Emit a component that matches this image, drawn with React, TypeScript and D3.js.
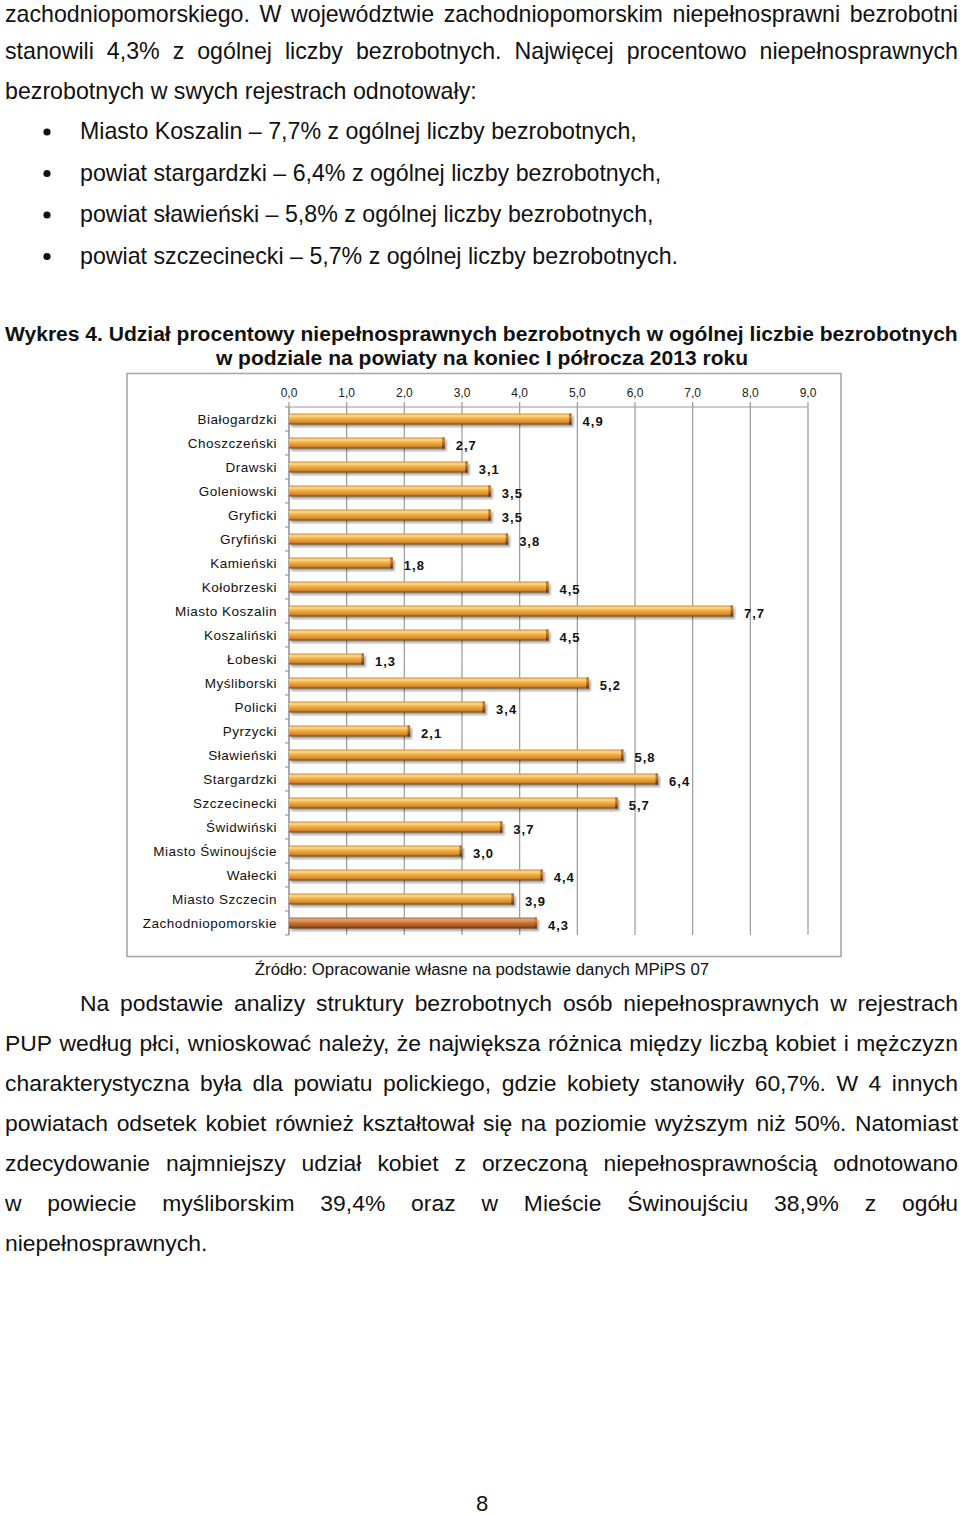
import React from "react";
import * as d3 from "d3";

const categories = [
  "Białogardzki", "Choszczeński", "Drawski", "Goleniowski", "Gryficki", "Gryfiński",
  "Kamieński", "Kołobrzeski", "Miasto Koszalin", "Koszaliński", "Łobeski", "Myśliborski",
  "Policki", "Pyrzycki", "Sławieński", "Stargardzki", "Szczecinecki", "Świdwiński",
  "Miasto Świnoujście", "Wałecki", "Miasto Szczecin", "Zachodniopomorskie",
];
const values = [4.9, 2.7, 3.1, 3.5, 3.5, 3.8, 1.8, 4.5, 7.7, 4.5, 1.3, 5.2, 3.4, 2.1, 5.8, 6.4, 5.7, 3.7, 3.0, 4.4, 3.9, 4.3];
const tickValues = [0, 1, 2, 3, 4, 5, 6, 7, 8, 9];

const topLines = [
  { text: "zachodniopomorskiego. W województwie zachodniopomorskim niepełnosprawni bezrobotni", justify: true },
  { text: "stanowili 4,3% z ogólnej liczby bezrobotnych. Najwięcej procentowo niepełnosprawnych", justify: true },
  { text: "bezrobotnych w swych rejestrach odnotowały:", justify: false },
];
const bulletLines = [
  "Miasto Koszalin – 7,7% z ogólnej liczby bezrobotnych,",
  "powiat stargardzki – 6,4% z ogólnej liczby bezrobotnych,",
  "powiat sławieński – 5,8% z ogólnej liczby bezrobotnych,",
  "powiat szczecinecki – 5,7% z ogólnej liczby bezrobotnych.",
];
const titleLines = [
  "Wykres 4. Udział procentowy niepełnosprawnych bezrobotnych w ogólnej liczbie bezrobotnych",
  "w podziale na powiaty na koniec I półrocza 2013 roku",
];
const sourceText = "Źródło: Opracowanie własne na podstawie danych MPiPS 07";
const bottomLines = [
  { text: "Na podstawie analizy struktury bezrobotnych osób niepełnosprawnych w rejestrach", justify: true, indent: true },
  { text: "PUP według płci, wnioskować należy, że największa różnica między liczbą kobiet i mężczyzn", justify: true },
  { text: "charakterystyczna była dla powiatu polickiego, gdzie kobiety stanowiły 60,7%. W 4 innych", justify: true },
  { text: "powiatach odsetek kobiet również kształtował się na poziomie wyższym niż 50%. Natomiast", justify: true },
  { text: "zdecydowanie najmniejszy udział kobiet z orzeczoną niepełnosprawnością odnotowano", justify: true },
  { text: "w powiecie myśliborskim 39,4% oraz w Mieście Świnoujściu 38,9% z ogółu", justify: true },
  { text: "niepełnosprawnych.", justify: false },
];
const pageNumber = "8";

const FONT = "'Liberation Sans', Arial, sans-serif";
let ctx: CanvasRenderingContext2D | null = null;
function measure(text: string, font: string): number {
  if (!ctx) ctx = document.createElement("canvas").getContext("2d");
  ctx!.font = font;
  return ctx!.measureText(text).width;
}

function Line({ text, x0, x1, y, size, bold = false, justify }: any) {
  const weight = bold ? "bold " : "";
  const font = `${weight}${size}px ${FONT}`;
  const words = text.split(" ");
  const widths = words.map((w: string) => measure(w, font));
  const total = d3.sum(widths);
  const space = measure(" ", font);
  const gap = justify && words.length > 1 ? (x1 - x0 - total) / (words.length - 1) : space;
  let x = x0;
  const xs = widths.map((w: number) => {
    const cur = x;
    x += w + gap;
    return cur;
  });
  return (
    <text y={y} fontFamily={FONT} fontSize={size} fontWeight={bold ? "bold" : "normal"} fill="#111">
      {words.map((w: string, i: number) => (
        <tspan key={i} x={xs[i]}>{w}</tspan>
      ))}
    </text>
  );
}

export default function App() {
  const W = 960, H = 1515;
  const topSize = 23.2;
  const bottomSize = 22.9;
  const x = d3.scaleLinear().domain([0, 9]).range([289, 808]);
  const y = d3.scaleBand<string>().domain(categories).range([407, 935]);
  const barH = 11;
  const fmt = (v: number) => d3.format(".1f")(v).replace(".", ",");

  const titleSize = 20 * 953 / measure(titleLines[0], `bold 20px ${FONT}`);

  return (
    <svg width={W} height={H} style={{ position: "absolute", left: 0, top: 0, display: "block", background: "#fff" }}>
      <defs>
        <linearGradient id="barGrad" x1="0" y1="0" x2="0" y2="1">
          <stop offset="0" stopColor="#d48d2e" />
          <stop offset="0.2" stopColor="#fbd98c" />
          <stop offset="0.5" stopColor="#f0a83e" />
          <stop offset="0.8" stopColor="#d98a26" />
          <stop offset="1" stopColor="#7a430e" />
        </linearGradient>
        <linearGradient id="barGradDark" x1="0" y1="0" x2="0" y2="1">
          <stop offset="0" stopColor="#b86a35" />
          <stop offset="0.2" stopColor="#e3a47a" />
          <stop offset="0.5" stopColor="#c47236" />
          <stop offset="0.8" stopColor="#a4561a" />
          <stop offset="1" stopColor="#5e2c0a" />
        </linearGradient>
        <linearGradient id="capGrad" x1="0" y1="0" x2="0" y2="1">
          <stop offset="0" stopColor="#a8641f" />
          <stop offset="0.3" stopColor="#c97f30" />
          <stop offset="1" stopColor="#5e300a" />
        </linearGradient>
        <filter id="shadow" x="-5%" y="-50%" width="110%" height="200%">
          <feGaussianBlur stdDeviation="1.2" />
        </filter>
      </defs>

      {/* top text */}
      {topLines.map((l, i) => (
        <Line key={i} text={l.text} x0={5} x1={958} y={i === 0 ? 21.5 : 19 + i * 40} size={topSize} justify={l.justify} />
      ))}
      {bulletLines.map((t, i) => (
        <g key={i}>
          <circle cx={47} cy={139 + i * 41.5 - 7} r={3.6} fill="#111" />
          <Line text={t} x0={80} x1={958} y={139 + i * 41.5} size={topSize} justify={false} />
        </g>
      ))}

      {/* title */}
      <Line text={titleLines[0]} x0={5} x1={958} y={341} size={titleSize} bold justify={false} />
      <text x={482} y={365} textAnchor="middle" fontFamily={FONT} fontSize={titleSize} fontWeight="bold" fill="#111">
        {titleLines[1]}
      </text>

      {/* chart frame */}
      <rect x={127} y={373.5} width={714} height={583} fill="#fff" stroke="#a8a8a8" strokeWidth={1.6} />

      {/* gridlines */}
      {tickValues.map((t) => (
        <g key={t}>
          <line x1={x(t)} x2={x(t)} y1={402} y2={935} stroke="#9a9a9a" strokeWidth={1.2} />
          <text x={x(t)} y={397} textAnchor="middle" fontFamily={FONT} fontSize={12} fill="#222">
            {fmt(t)}
          </text>
        </g>
      ))}
      <line x1={x(0)} x2={x(9)} y1={407} y2={407} stroke="#9a9a9a" strokeWidth={1.2} />
      <line x1={x(0)} x2={x(0)} y1={407} y2={935} stroke="#9a9a9a" strokeWidth={1.2} />
      {d3.range(categories.length + 1).map((i) => {
        const yy = 407 + i * y.step();
        return <line key={i} x1={285} x2={289} y1={yy} y2={yy} stroke="#9a9a9a" strokeWidth={1.2} />;
      })}

      {/* bars */}
      {categories.map((c, i) => {
        const cy = (y(c) as number) + y.bandwidth() / 2;
        const x0 = x(0);
        const x1 = x(values[i]);
        const dark = i === categories.length - 1;
        return (
          <g key={c}>
            <text x={277} y={cy + 5} textAnchor="end" fontFamily={FONT} fontSize={13.5} letterSpacing={0.5} fill="#111">
              {c}
            </text>
            <rect x={x0 + 2} y={cy - barH / 2 + 2.5} width={x1 - x0} height={barH} fill="#000" opacity={0.35} filter="url(#shadow)" />
            <rect x={x0} y={cy - barH / 2} width={x1 - x0} height={barH} fill={dark ? "url(#barGradDark)" : "url(#barGrad)"} />
            <rect x={x1 - 2.5} y={cy - barH / 2} width={2.5} height={barH} fill="url(#capGrad)" opacity={dark ? 0.8 : 1} />
            <text x={x1 + 11} y={cy + 6.5} fontFamily={FONT} fontSize={13} fontWeight="bold" letterSpacing={1} fill="#111">
              {fmt(values[i])}
            </text>
          </g>
        );
      })}

      {/* source */}
      <text x={482} y={975} textAnchor="middle" fontFamily={FONT} fontSize={16.8} fill="#111">
        {sourceText}
      </text>

      {/* bottom text */}
      {bottomLines.map((l, i) => (
        <Line key={i} text={l.text} x0={l.indent ? 80 : 5} x1={958} y={1011 + i * 40} size={bottomSize} justify={l.justify} />
      ))}

      <text x={482} y={1511} textAnchor="middle" fontFamily={FONT} fontSize={22} fill="#111">
        {pageNumber}
      </text>
    </svg>
  );
}
